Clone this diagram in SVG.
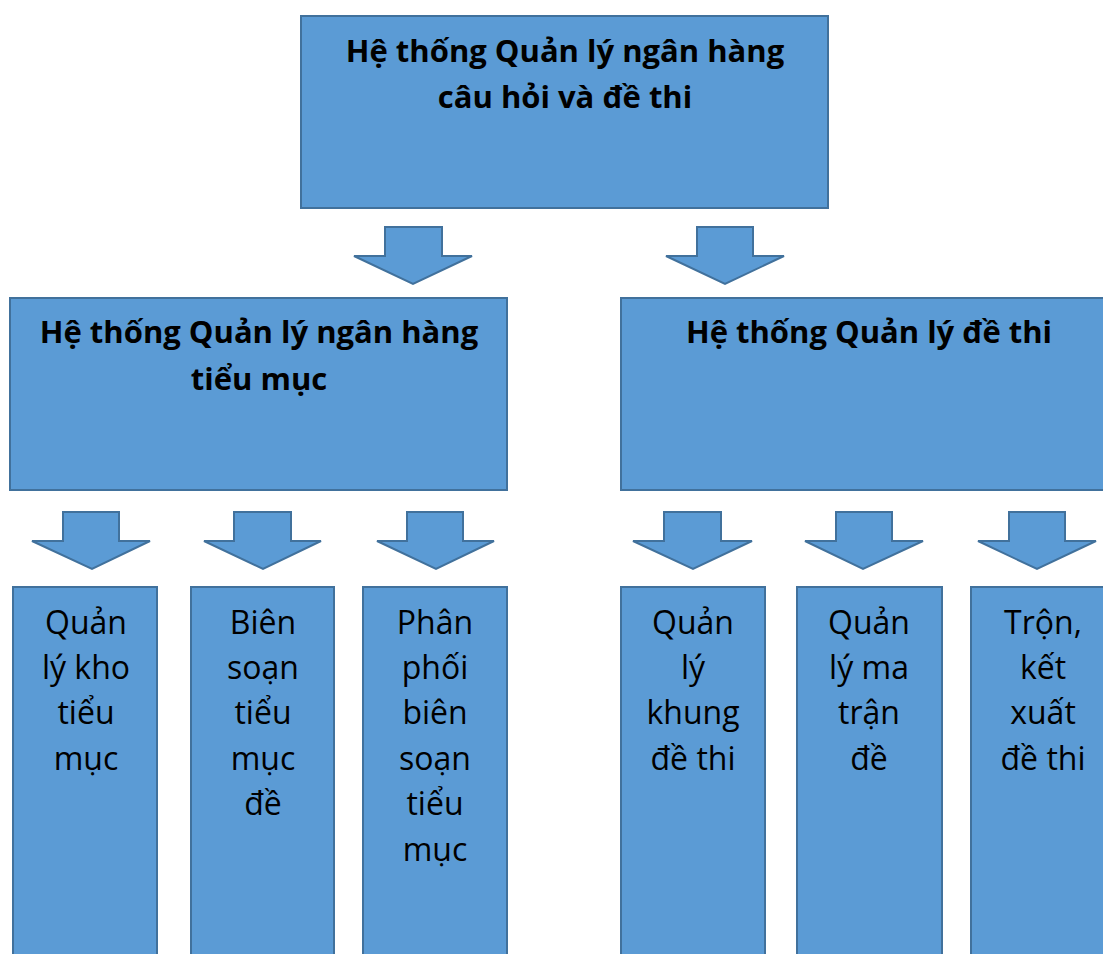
<svg xmlns="http://www.w3.org/2000/svg" width="1103" height="954" viewBox="0 0 1103 954">
<style>
.box{fill:#5B9BD5;stroke:#41719C;stroke-width:2}
.arr{fill:#5B9BD5;stroke:#41719C;stroke-width:2;stroke-linejoin:miter}
.t{font-family:"Open Sans","Noto Sans",sans-serif;font-size:32px;fill:#000;text-anchor:middle}
.b{font-weight:bold;font-size:31px}
</style>
<rect width="1103" height="954" fill="#fff"/>
<g id="root">
<rect class="box" x="301" y="16" width="527" height="192"/>
<text class="t b" x="565" y="62">Hệ thống Quản lý ngân hàng</text>
<text class="t b" x="565" y="108">câu hỏi và đề thi</text>
</g>
<g id="bank">
<rect class="box" x="10" y="298" width="497" height="192"/>
<text class="t b" x="259" y="343">Hệ thống Quản lý ngân hàng</text>
<text class="t b" x="259" y="390">tiểu mục</text>
</g>
<g id="exam">
<rect class="box" x="621" y="298" width="497" height="192"/>
<text class="t b" x="869" y="343">Hệ thống Quản lý đề thi</text>
</g>
<g id="n1">
<rect class="box" x="13" y="587" width="144" height="380"/>
<text class="t" x="86"><tspan x="86" y="634">Quản</tspan><tspan x="86" y="679">lý kho</tspan><tspan x="86" y="724">tiểu</tspan><tspan x="86" y="770">mục</tspan></text>
</g>
<g id="n2">
<rect class="box" x="191" y="587" width="143" height="380"/>
<text class="t" x="263"><tspan x="263" y="634">Biên</tspan><tspan x="263" y="679">soạn</tspan><tspan x="263" y="724">tiểu</tspan><tspan x="263" y="770">mục</tspan><tspan x="263" y="815">đề</tspan></text>
</g>
<g id="n3">
<rect class="box" x="363" y="587" width="144" height="380"/>
<text class="t" x="435"><tspan x="435" y="634">Phân</tspan><tspan x="435" y="679">phối</tspan><tspan x="435" y="724">biên</tspan><tspan x="435" y="770">soạn</tspan><tspan x="435" y="815">tiểu</tspan><tspan x="435" y="861">mục</tspan></text>
</g>
<g id="n4">
<rect class="box" x="621" y="587" width="144" height="380"/>
<text class="t" x="693"><tspan x="693" y="634">Quản</tspan><tspan x="693" y="679">lý</tspan><tspan x="693" y="724">khung</tspan><tspan x="693" y="770">đề thi</tspan></text>
</g>
<g id="n5">
<rect class="box" x="797" y="587" width="145" height="380"/>
<text class="t" x="869"><tspan x="869" y="634">Quản</tspan><tspan x="869" y="679">lý ma</tspan><tspan x="869" y="724">trận</tspan><tspan x="869" y="770">đề</tspan></text>
</g>
<g id="n6">
<rect class="box" x="971" y="587" width="144" height="380"/>
<text class="t" x="1043"><tspan x="1043" y="634">Trộn,</tspan><tspan x="1043" y="679">kết</tspan><tspan x="1043" y="724">xuất</tspan><tspan x="1043" y="770">đề thi</tspan></text>
</g>
<g id="connectors">
<polygon class="arr" points="385,227 442,227 442,256 472,256 413,284 354,256 385,256"/>
<polygon class="arr" points="697,227 753,227 753,256 784,256 725,284 666,256 697,256"/>
<polygon class="arr" points="63,512 119,512 119,541 150,541 92,569 32,541 63,541"/>
<polygon class="arr" points="234,512 291,512 291,541 321,541 263,569 204,541 234,541"/>
<polygon class="arr" points="407,512 463,512 463,541 494,541 436,569 377,541 407,541"/>
<polygon class="arr" points="664,512 721,512 721,541 752,541 693,569 633,541 664,541"/>
<polygon class="arr" points="836,512 892,512 892,541 923,541 863,569 805,541 836,541"/>
<polygon class="arr" points="1009,512 1065,512 1065,541 1096,541 1037,569 978,541 1009,541"/>
</g>
</svg>
